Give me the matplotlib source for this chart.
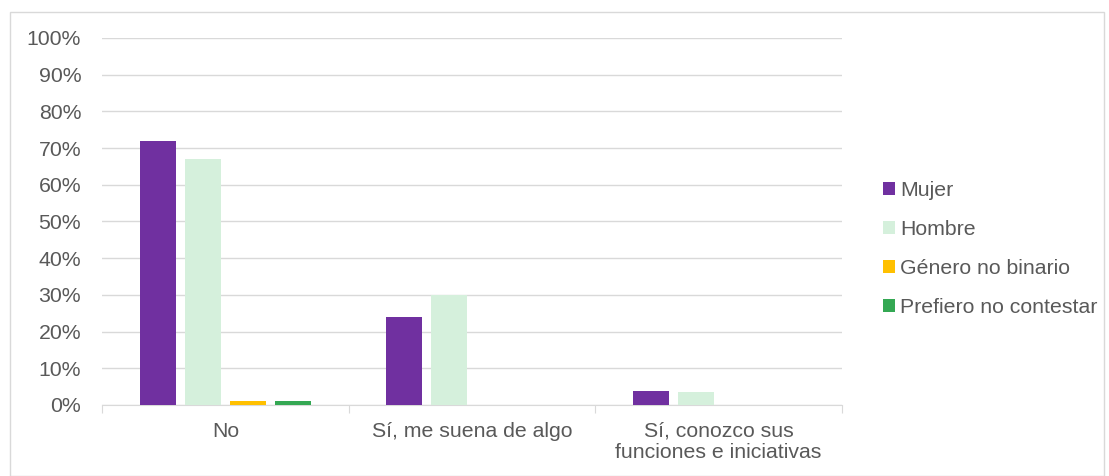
import numpy as np
import matplotlib.pyplot as plt
from matplotlib.patches import Rectangle

plt.rcParams['font.family'] = ['Liberation Sans', 'DejaVu Sans']

categories = ['No', 'Sí, me suena de algo', 'Sí, conozco sus\nfunciones e iniciativas']
series = ['Mujer', 'Hombre', 'Género no binario', 'Prefiero no contestar']
mujer = [72, 24, 3.8]
hombre = [67, 30, 3.5]
no_binario = [1, 0, 0]
prefiero = [1, 0, 0]
colors = ['#7030A0', '#D5F0DC', '#FFC000', '#34A853']
values = [mujer, hombre, no_binario, prefiero]

text_color = '#595959'
grid_color = '#D9D9D9'
fs = 15.3

fig = plt.figure(figsize=(11.09, 4.76), dpi=100)
fig.patches.append(Rectangle((10 / 1109, 0.0), 1094 / 1109, 1 - 12 / 476,
                             transform=fig.transFigure, fill=False,
                             edgecolor=grid_color, linewidth=1))
ax = fig.add_axes([102 / 1109, 1 - 405 / 476, 740 / 1109, 367 / 476])

x = np.arange(len(categories))
width = 0.146
step = 0.183
for i, (name, vals) in enumerate(zip(series, values)):
    offs = (i - 1.5) * step
    ax.bar(x + offs, vals, width, color=colors[i], label=name, zorder=3)

ax.set_xlim(-0.5, len(categories) - 0.5)
ax.set_ylim(0, 100)
ax.set_yticks(np.arange(0, 101, 10))
ax.set_yticklabels([f'{v}%' for v in range(0, 101, 10)])
ax.yaxis.grid(True, color=grid_color, linewidth=1, zorder=0)
ax.set_axisbelow(True)
ax.tick_params(axis='y', length=0, pad=15, labelsize=fs, labelcolor=text_color)
ax.set_xticks(np.arange(-0.5, len(categories)), minor=False)
ax.set_xticklabels([''] * (len(categories) + 1))
ax.tick_params(axis='x', length=6, color=grid_color, direction='out')
for i, c in enumerate(categories):
    ax.text(i, -4.6, c, ha='center', va='top', fontsize=fs, color=text_color,
            linespacing=1.15)
for s in ['top', 'right', 'left']:
    ax.spines[s].set_visible(False)
ax.spines['bottom'].set_color(grid_color)

leg = ax.legend(loc='center left', bbox_to_anchor=(1.03, 0.425), frameon=False,
                fontsize=fs, labelspacing=0.95, handlelength=0.55,
                handleheight=0.55, handletextpad=0.25, labelcolor=text_color)

fig.savefig('out.png', dpi=100)
